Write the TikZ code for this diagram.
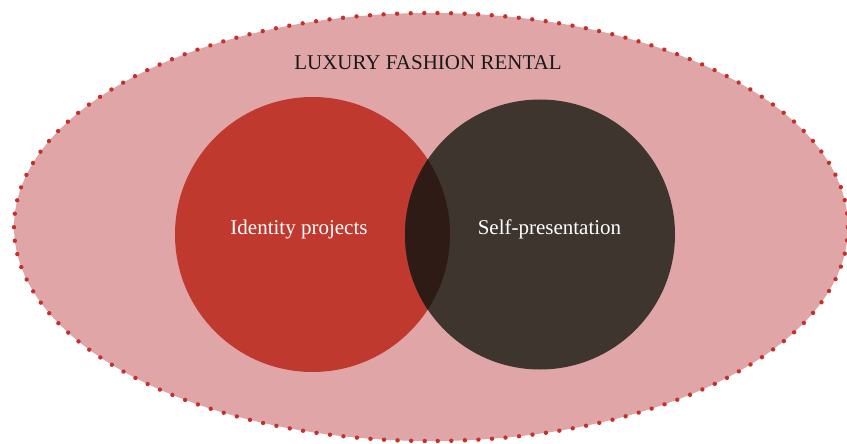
\documentclass[tikz,border=0pt]{standalone}
\usepackage{fontspec}
\setmainfont{Liberation Serif}
\usetikzlibrary{decorations.markings}

\definecolor{rentpink}{HTML}{E0A6A7}
\definecolor{rentdots}{HTML}{C4302B}
\definecolor{idred}{HTML}{C0392F}
\definecolor{selfbrown}{HTML}{3E362E}
\definecolor{overlap}{HTML}{2F1B15}

\begin{document}
\begin{tikzpicture}[x=1pt,y=-1pt,
market/.style={
	% The filling:
	fill=rentpink,
	% The border: a row of round dots
	postaction={decorate,decoration={markings,
		mark=between positions 0 and 1 step 13.56pt with
		{\fill[rentdots] (0,0) circle (2.2pt);}}}},
setcircle/.style={
	% The shape:
	circle, inner sep=0pt,
	% The size:
	minimum size=#1},
setlabel/.style={
	% Font
	font=\fontsize{21}{24}\selectfont, text=white, anchor=base},
title/.style={
	font=\fontsize{21}{24}\selectfont, text=black!90, anchor=base}]

\useasboundingbox (0,0) rectangle (847,444);

% Outer market
\path[market] (431,227) ellipse [x radius=417pt, y radius=214pt];
\node (rental) [title] at (428,70) {LUXURY FASHION RENTAL};

% The two sets
\node (identity) [setcircle=275pt, fill=idred] at (312.5,234.5) {};
\node (self) [setcircle=270pt, fill=selfbrown] at (540,234.5) {};

% Overlap of the two sets
\begin{scope}
\clip (identity.center) circle (137.5pt);
\fill[overlap] (self.center) circle (135pt);
\end{scope}

\node (identitylabel) [setlabel] at (299,234) {Identity projects};
\node (selflabel) [setlabel] at (549.5,234) {Self-presentation};

\end{tikzpicture}
\end{document}
